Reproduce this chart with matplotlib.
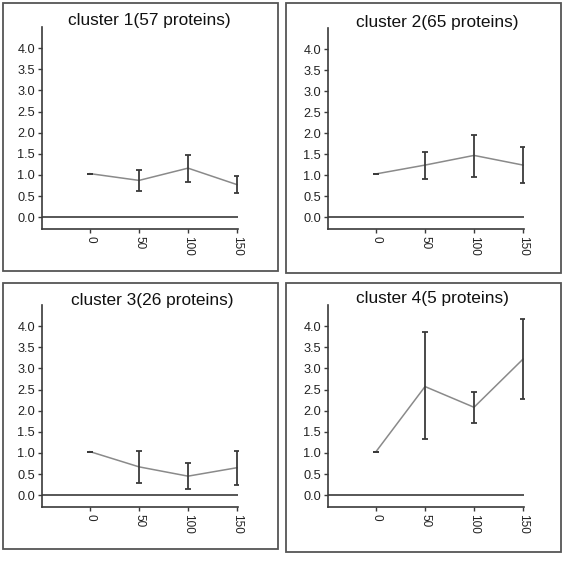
import matplotlib
matplotlib.use("Agg")
import matplotlib.pyplot as plt
from matplotlib.patches import Rectangle

plt.rcParams['font.family'] = ['Liberation Sans', 'DejaVu Sans']

# === DATA ===
doses = [0, 50, 100, 150]
titles = ["cluster 1(57 proteins)", "cluster 2(65 proteins)",
          "cluster 3(26 proteins)", "cluster 4(5 proteins)"]
means_c1 = [1.03, 0.87, 1.16, 0.77]
low_c1 = [1.03, 0.62, 0.83, 0.58]
high_c1 = [1.03, 1.11, 1.48, 0.97]
means_c2 = [1.03, 1.24, 1.47, 1.24]
low_c2 = [1.03, 0.91, 0.95, 0.81]
high_c2 = [1.03, 1.56, 1.96, 1.66]
means_c3 = [1.03, 0.67, 0.45, 0.65]
low_c3 = [1.03, 0.29, 0.14, 0.25]
high_c3 = [1.03, 1.05, 0.75, 1.05]
means_c4 = [1.03, 2.57, 2.08, 3.22]
low_c4 = [1.03, 1.34, 1.70, 2.27]
high_c4 = [1.03, 3.86, 2.43, 4.17]
yticks = [0.0, 0.5, 1.0, 1.5, 2.0, 2.5, 3.0, 3.5, 4.0]

W, H = 566, 561
fig = plt.figure(figsize=(W / 100, H / 100), dpi=100)

def rect(l, t, r, b):
    return [l / W, 1 - b / H, (r - l) / W, (b - t) / H]

# panel frames and axes boxes in pixels
frames = [(3, 3, 278, 271), (286, 3, 561, 273), (3, 283, 278, 549), (286, 283, 561, 552)]
axboxes = [(42, 27, 238, 229), (328, 28, 524, 229), (42, 305, 238, 507), (328, 305, 524, 507)]
title_pos = [(149, 21), (437, 22), (152, 301), (432, 299)]
series = [(means_c1, low_c1, high_c1), (means_c2, low_c2, high_c2),
          (means_c3, low_c3, high_c3), (means_c4, low_c4, high_c4)]

dark = '#3a3a3a'
for i in range(4):
    l, t, r, b = frames[i]
    fig.add_artist(Rectangle((l / W, 1 - b / H), (r - l) / W, (b - t) / H,
                             transform=fig.transFigure, fill=False,
                             edgecolor='#555555', linewidth=1.3))
    ax = fig.add_axes(rect(*axboxes[i]))
    m, lo, hi = series[i]
    err = [[mm - a for mm, a in zip(m, lo)], [c - mm for mm, c in zip(m, hi)]]
    ax.plot(doses, m, color='#8a8a8a', linewidth=1.1, zorder=2)
    ax.errorbar(doses, m, yerr=err, fmt='none', ecolor=dark, elinewidth=1.3,
                capsize=2, capthick=1.3, zorder=3)
    ax.axhline(0, color=dark, linewidth=1.2, zorder=1)
    ax.set_xlim(-49, 151)
    ax.set_ylim(-0.28, 4.5)
    ax.set_yticks(yticks)
    ax.set_yticklabels([f"{v:.1f}" for v in yticks])
    ax.set_xticks(doses)
    ax.set_xticklabels([str(d) for d in doses], rotation=-90, va='top', ha='center')
    for s in ['top', 'right']:
        ax.spines[s].set_visible(False)
    for s in ['left', 'bottom']:
        ax.spines[s].set_color(dark)
        ax.spines[s].set_linewidth(1.2)
    ax.tick_params(axis='both', colors=dark, labelcolor='#222222', labelsize=8.5,
                   length=3, width=1, pad=2)
    ax.tick_params(axis='y', labelsize=9.2)
    ax.patch.set_alpha(0)
    fig.text(title_pos[i][0] / W, 1 - title_pos[i][1] / H, titles[i],
             ha='center', va='center', fontsize=12.4, color='#111111')

fig.savefig("out.png", dpi=100)
